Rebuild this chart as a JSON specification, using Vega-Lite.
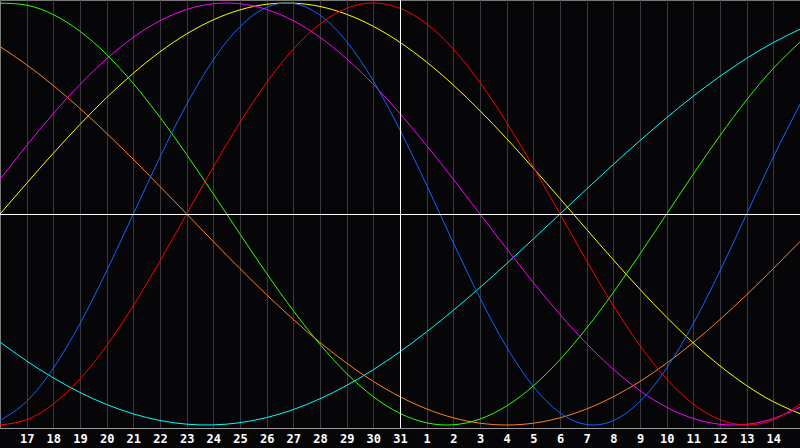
{
  "$schema": "https://vega.github.io/schema/vega-lite/v6.json",
  "width": 800,
  "height": 428,
  "autosize": {"type": "none"},
  "padding": {"left": 0, "top": 0, "right": 0, "bottom": 20},
  "background": "#060608",
  "config": {
    "view": {"stroke": "#7a7a7a", "strokeWidth": 1}
  },
  "datasets": {
    "cycles": [
      {"d": 0, "Physical": -0.9791, "Emotional": -1, "Intellectual": 0.9989, "Intuitive": 0.1646, "Aesthetic": 0, "Awareness": 0.7934, "Spiritual": -0.6068},
      {"d": 1, "Physical": -0.8879, "Emotional": -0.9749, "Intellectual": 0.9898, "Intuitive": 0.3247, "Aesthetic": 0.1456, "Awareness": 0.7071, "Spiritual": -0.6966},
      {"d": 2, "Physical": -0.7308, "Emotional": -0.901, "Intellectual": 0.945, "Intuitive": 0.4759, "Aesthetic": 0.2881, "Awareness": 0.6088, "Spiritual": -0.7765},
      {"d": 3, "Physical": -0.5196, "Emotional": -0.7818, "Intellectual": 0.866, "Intuitive": 0.6142, "Aesthetic": 0.4244, "Awareness": 0.5, "Spiritual": -0.8457},
      {"d": 4, "Physical": -0.2698, "Emotional": -0.6235, "Intellectual": 0.7557, "Intuitive": 0.7357, "Aesthetic": 0.5517, "Awareness": 0.3827, "Spiritual": -0.9028},
      {"d": 5, "Physical": 0, "Emotional": -0.4339, "Intellectual": 0.6182, "Intuitive": 0.8372, "Aesthetic": 0.6673, "Awareness": 0.2588, "Spiritual": -0.9473},
      {"d": 6, "Physical": 0.2698, "Emotional": -0.2225, "Intellectual": 0.4582, "Intuitive": 0.9158, "Aesthetic": 0.7686, "Awareness": 0.1305, "Spiritual": -0.9786},
      {"d": 7, "Physical": 0.5196, "Emotional": 0, "Intellectual": 0.2817, "Intuitive": 0.9694, "Aesthetic": 0.8536, "Awareness": 0, "Spiritual": -0.9961},
      {"d": 8, "Physical": 0.7308, "Emotional": 0.2225, "Intellectual": 0.0951, "Intuitive": 0.9966, "Aesthetic": 0.9203, "Awareness": -0.1305, "Spiritual": -0.9996},
      {"d": 9, "Physical": 0.8879, "Emotional": 0.4339, "Intellectual": -0.0951, "Intuitive": 0.9966, "Aesthetic": 0.9675, "Awareness": -0.2588, "Spiritual": -0.989},
      {"d": 10, "Physical": 0.9791, "Emotional": 0.6235, "Intellectual": -0.2817, "Intuitive": 0.9694, "Aesthetic": 0.994, "Awareness": -0.3827, "Spiritual": -0.9647},
      {"d": 11, "Physical": 0.9977, "Emotional": 0.7818, "Intellectual": -0.4582, "Intuitive": 0.9158, "Aesthetic": 0.9993, "Awareness": -0.5, "Spiritual": -0.9267},
      {"d": 12, "Physical": 0.9423, "Emotional": 0.901, "Intellectual": -0.6182, "Intuitive": 0.8372, "Aesthetic": 0.9834, "Awareness": -0.6088, "Spiritual": -0.8757},
      {"d": 13, "Physical": 0.817, "Emotional": 0.9749, "Intellectual": -0.7557, "Intuitive": 0.7357, "Aesthetic": 0.9464, "Awareness": -0.7071, "Spiritual": -0.8125},
      {"d": 14, "Physical": 0.6311, "Emotional": 1, "Intellectual": -0.866, "Intuitive": 0.6142, "Aesthetic": 0.8894, "Awareness": -0.7934, "Spiritual": -0.7378},
      {"d": 15, "Physical": 0.3984, "Emotional": 0.9749, "Intellectual": -0.945, "Intuitive": 0.4759, "Aesthetic": 0.8133, "Awareness": -0.866, "Spiritual": -0.6528},
      {"d": 16, "Physical": 0.1362, "Emotional": 0.901, "Intellectual": -0.9898, "Intuitive": 0.3247, "Aesthetic": 0.7199, "Awareness": -0.9239, "Spiritual": -0.5586},
      {"d": 17, "Physical": -0.1362, "Emotional": 0.7818, "Intellectual": -0.9989, "Intuitive": 0.1646, "Aesthetic": 0.6112, "Awareness": -0.9659, "Spiritual": -0.4566},
      {"d": 18, "Physical": -0.3984, "Emotional": 0.6235, "Intellectual": -0.9718, "Intuitive": 0, "Aesthetic": 0.4894, "Awareness": -0.9914, "Spiritual": -0.3482},
      {"d": 19, "Physical": -0.6311, "Emotional": 0.4339, "Intellectual": -0.9096, "Intuitive": -0.1646, "Aesthetic": 0.3572, "Awareness": -1, "Spiritual": -0.2349},
      {"d": 20, "Physical": -0.817, "Emotional": 0.2225, "Intellectual": -0.8146, "Intuitive": -0.3247, "Aesthetic": 0.2174, "Awareness": -0.9914, "Spiritual": -0.1183},
      {"d": 21, "Physical": -0.9423, "Emotional": 0, "Intellectual": -0.6901, "Intuitive": -0.4759, "Aesthetic": 0.073, "Awareness": -0.9659, "Spiritual": 0},
      {"d": 22, "Physical": -0.9977, "Emotional": -0.2225, "Intellectual": -0.5406, "Intuitive": -0.6142, "Aesthetic": -0.073, "Awareness": -0.9239, "Spiritual": 0.1183},
      {"d": 23, "Physical": -0.9791, "Emotional": -0.4339, "Intellectual": -0.3717, "Intuitive": -0.7357, "Aesthetic": -0.2174, "Awareness": -0.866, "Spiritual": 0.2349},
      {"d": 24, "Physical": -0.8879, "Emotional": -0.6235, "Intellectual": -0.1893, "Intuitive": -0.8372, "Aesthetic": -0.3572, "Awareness": -0.7934, "Spiritual": 0.3482},
      {"d": 25, "Physical": -0.7308, "Emotional": -0.7818, "Intellectual": 0, "Intuitive": -0.9158, "Aesthetic": -0.4894, "Awareness": -0.7071, "Spiritual": 0.4566},
      {"d": 26, "Physical": -0.5196, "Emotional": -0.901, "Intellectual": 0.1893, "Intuitive": -0.9694, "Aesthetic": -0.6112, "Awareness": -0.6088, "Spiritual": 0.5586},
      {"d": 27, "Physical": -0.2698, "Emotional": -0.9749, "Intellectual": 0.3717, "Intuitive": -0.9966, "Aesthetic": -0.7199, "Awareness": -0.5, "Spiritual": 0.6528},
      {"d": 28, "Physical": 0, "Emotional": -1, "Intellectual": 0.5406, "Intuitive": -0.9966, "Aesthetic": -0.8133, "Awareness": -0.3827, "Spiritual": 0.7378},
      {"d": 29, "Physical": 0.2698, "Emotional": -0.9749, "Intellectual": 0.6901, "Intuitive": -0.9694, "Aesthetic": -0.8894, "Awareness": -0.2588, "Spiritual": 0.8125},
      {"d": 30, "Physical": 0.5196, "Emotional": -0.901, "Intellectual": 0.8146, "Intuitive": -0.9158, "Aesthetic": -0.9464, "Awareness": -0.1305, "Spiritual": 0.8757}
    ]
  },
  "layer": [
    {
      "data": {"name": "cycles"},
      "transform": [
        {"fold": ["Spiritual", "Awareness", "Aesthetic", "Intuitive", "Intellectual", "Emotional", "Physical"], "as": ["cycle", "value"]}
      ],
      "mark": {"type": "line", "strokeWidth": 1, "interpolate": "natural"},
      "encoding": {
        "x": {
          "field": "d",
          "type": "quantitative",
          "scale": {"domain": [0, 30], "nice": false, "zero": false},
          "axis": {
            "title": null,
            "values": [1, 2, 3, 4, 5, 6, 7, 8, 9, 10, 11, 12, 13, 14, 15, 16, 17, 18, 19, 20, 21, 22, 23, 24, 25, 26, 27, 28, 29],
            "tickCount": 60,
            "labelExpr": "datum.value <= 15 ? '' + (datum.value + 16) : '' + (datum.value - 15)",
            "grid": true,
            "gridColor": "#3a3a3e",
            "gridWidth": 1,
            "ticks": false,
            "tickSize": 0,
            "domain": true,
            "domainColor": "#9a9a9a",
            "domainWidth": 1,
            "labelColor": "#ffffff",
            "labelFont": "DejaVu Sans Mono",
            "labelFontSize": 12,
            "labelFontWeight": "bold",
            "labelPadding": 5,
            "labelOverlap": false,
            "labelFlush": false
          }
        },
        "y": {
          "field": "value",
          "type": "quantitative",
          "scale": {"domain": [-1.0142, 1.0142], "nice": false, "zero": false},
          "axis": null
        },
        "color": {
          "field": "cycle",
          "type": "nominal",
          "scale": {
            "domain": ["Physical", "Emotional", "Intellectual", "Intuitive", "Aesthetic", "Awareness", "Spiritual"],
            "range": ["#1064ff", "#ff0000", "#30ff00", "#ff00ff", "#ffff00", "#ff8020", "#00ffff"]
          },
          "legend": null
        },
        "detail": {"field": "cycle"}
      }
    },
    {
      "data": {"values": [{"d": 15}]},
      "mark": {"type": "rule", "color": "#ffffff", "strokeWidth": 1, "xOffset": 0.5},
      "encoding": {
        "x": {"field": "d", "type": "quantitative"}
      }
    },
    {
      "data": {"values": [{"value": 0}]},
      "mark": {"type": "rule", "color": "#ffffff", "strokeWidth": 1, "yOffset": 0.5},
      "encoding": {
        "y": {"field": "value", "type": "quantitative"}
      }
    }
  ]
}
